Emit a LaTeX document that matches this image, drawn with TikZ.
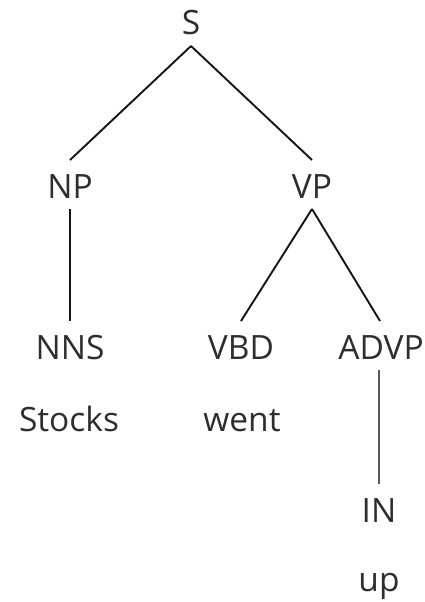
\documentclass[tikz,border=0pt]{standalone}
\usepackage{fontspec}
\usetikzlibrary{calc}
\setmainfont{Open Sans}
\begin{document}
\begin{tikzpicture}[x=1pt,y=-1pt,
  lab/.style={inner sep=0pt, anchor=base, font=\fontsize{33.5}{40}\selectfont, text=black!82},
  branch/.style={line width=1.9pt, black!92}]
  \useasboundingbox (0,0) rectangle (425,602);
  % constituent labels
  \node[lab] (S)    at (191,35)  {S};
  \node[lab] (NP)   at (70,198)  {NP};
  \node[lab] (VP)   at (312,198) {VP};
  \node[lab] (NNS)  at (70,359)  {NNS};
  \node[lab] (VBD)  at (241,359) {VBD};
  \node[lab] (ADVP) at (381,359) {ADVP};
  \node[lab] (IN)   at (379,522) {IN};
  % words
  \node[lab] (w1) at (69,431)  {Stocks};
  \node[lab] (w2) at (242,431) {went};
  \node[lab] (w3) at (379,591) {up};
  % attachment points just below / above each label
  \foreach \n in {S,NP,VP}{\coordinate (\n-lo) at ($(\n.base)+(0,11)$);}
  \coordinate (ADVP-lo) at ($(ADVP.base)+(-2,11)$);
  \foreach \n in {NP,VP,NNS,VBD,IN}{\coordinate (\n-hi) at ($(\n.base)+(0,-38)$);}
  \coordinate (ADVP-hi) at ($(ADVP.base)+(-1,-38)$);
  % branches
  \draw[branch] (S-lo) -- (NP-hi);
  \draw[branch] (S-lo) -- (VP-hi);
  \draw[branch] (NP-lo) -- (NNS-hi);
  \draw[branch] (VP-lo) -- (VBD-hi);
  \draw[branch] (VP-lo) -- (ADVP-hi);
  \draw[branch, line width=1.3pt, black!65] (ADVP-lo) -- (IN-hi);
\end{tikzpicture}
\end{document}
